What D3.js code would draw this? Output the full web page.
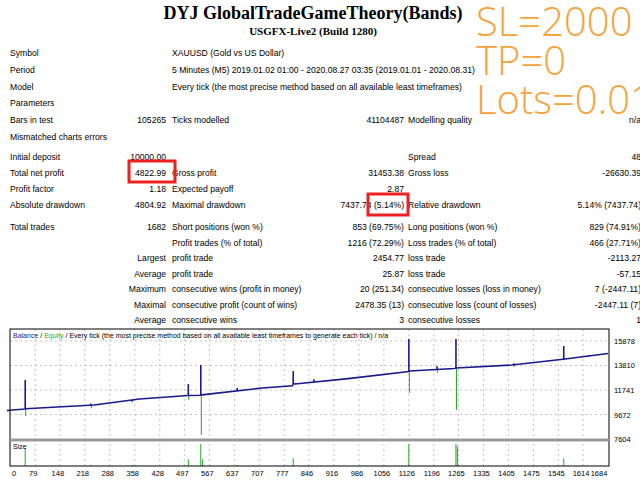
<!DOCTYPE html>
<html><head><meta charset="utf-8">
<script src="https://cdn.jsdelivr.net/npm/d3@7"></script>
<style>body{margin:0;background:#fff}svg{display:block}</style>
</head><body><svg id="c" width="640" height="480"></svg>
<script>
const xTicks=[0,79,148,218,288,358,428,497,567,637,707,777,846,916,986,1056,1126,1196,1265,1335,1405,1475,1545,1614,1684];
const yTicks=[7604,9672,11741,13810,15878];
const balanceTrades=[0,15,51,52,244,371,508,545,546,715,800,802,807,956,1126,1128,1254,1258,1415,1564,1684];
const balanceValues=[10000,10054,10140,10160,10476,10983,11278,11300,11330,11911,12100,12300,12250,12705,13300,13346,13557,13600,13852,14359,14823];
const spikeTrades=[51,235,350,508,543,645,802,860,1126,1205,1258,1420,1560,1630];
const spikeHigh=[12590,10600,10800,12250,13850,11900,13340,12650,16050,13750,16050,14000,15450,14700];
const spikeLow=[9540,10200,10700,10900,7950,11800,12300,12450,11490,13200,10060,13700,14250,14600];
const sizeTrades=[51,235,350,508,543,548,645,802,1126,1258,1262,1560];
const sizeValues=[0.8,0.05,0.05,0.3,1.0,0.3,0.05,0.35,1.0,1.0,0.9,0.35];
const rows=[
 ["Symbol","","XAUUSD (Gold vs US Dollar)","","",""],
 ["Period","","5 Minutes (M5) 2019.01.02 01:00 - 2020.08.27 03:35 (2019.01.01 - 2020.08.31)","","",""],
 ["Model","","Every tick (the most precise method based on all available least timeframes)","","",""],
 ["Parameters","","","","",""],
 ["Bars in test","105265","Ticks modelled","41104487","Modelling quality","n/a"],
 ["Mismatched charts errors","","","","",""],
 ["Initial deposit","10000.00","","","Spread","48"],
 ["Total net profit","4822.99","Gross profit","31453.38","Gross loss","-26630.39"],
 ["Profit factor","1.18","Expected payoff","2.87","",""],
 ["Absolute drawdown","4804.92","Maximal drawdown","7437.74 (5.14%)","Relative drawdown","5.14% (7437.74)"],
 ["Total trades","1682","Short positions (won %)","853 (69.75%)","Long positions (won %)","829 (74.91%)"],
 ["","","Profit trades (% of total)","1216 (72.29%)","Loss trades (% of total)","466 (27.71%)"],
 ["","Largest","profit trade","2454.77","loss trade","-2113.27"],
 ["","Average","profit trade","25.87","loss trade","-57.15"],
 ["","Maximum","consecutive wins (profit in money)","20 (251.34)","consecutive losses (loss in money)","7 (-2447.11)"],
 ["","Maximal","consecutive profit (count of wins)","2478.35 (13)","consecutive loss (count of losses)","-2447.11 (7)"],
 ["","Average","consecutive wins","3","consecutive losses","1"]];
const rowY=[56,73,90,106,123,140,160,176,192,208,230,246,261,277,292,308,323];

const svg=d3.select("#c");
svg.append("text").attr("x",313).attr("y",19).attr("text-anchor","middle").attr("font-family","Liberation Serif").attr("font-weight","bold").attr("font-size",18).text("DYJ GlobalTradeGameTheory(Bands)");
svg.append("text").attr("x",313).attr("y",35).attr("text-anchor","middle").attr("font-family","Liberation Serif").attr("font-weight","bold").attr("font-size",11).text("USGFX-Live2 (Build 1280)");
const f="Liberation Sans";
rows.forEach((r,i)=>{
 const y=rowY[i];
 const t=(x,s,a)=>{if(s)svg.append("text").attr("x",x).attr("y",y).attr("text-anchor",a).attr("font-family",f).attr("font-size",8.6).attr("fill","#000").text(s);};
 t(10,r[0],"start");t(166,r[1],"end");t(172,r[2],"start");t(404,r[3],"end");t(408,r[4],"start");t(641,r[5],"end");
});
[[129,161,46,21],[368,194,40,21]].forEach(b=>svg.append("rect").attr("x",b[0]).attr("y",b[1]).attr("width",b[2]).attr("height",b[3]).attr("fill","none").attr("stroke","#ee2020").attr("stroke-width",3));
[["SL=2000",36],["TP=0",75],["Lots=0.01",114]].forEach(d=>svg.append("text").attr("x",476).attr("y",d[1]).attr("font-family","Open Sans").attr("font-weight",300).attr("font-size",40).attr("fill","#f7a23a").text(d[0]));

const x=d3.scaleLinear().domain([0,1684]).range([7,608]);
const y=d3.scaleLinear().domain([7604,15878]).range([439,341]);
const ys=d3.scaleLinear().domain([0,1]).range([466,444]);
const L=10,R=609,T=329,B=439,SB=466;
const base=t=>{const i=d3.bisectLeft(balanceTrades,t);const j=Math.max(1,Math.min(i,balanceTrades.length-1));const a=balanceTrades[j-1],b=balanceTrades[j];return balanceValues[j-1]+(balanceValues[j]-balanceValues[j-1])*(t-a)/(b-a);};
const g=svg.append("g");
xTicks.forEach(v=>{if(x(v)>L+1&&x(v)<R-1)g.append("line").attr("x1",x(v)).attr("x2",x(v)).attr("y1",T).attr("y2",SB).attr("stroke","#aaa").attr("stroke-dasharray","2,3").attr("stroke-width",0.7);});
yTicks.slice(1).forEach(v=>g.append("line").attr("x1",L).attr("x2",R).attr("y1",y(v)).attr("y2",y(v)).attr("stroke","#aaa").attr("stroke-dasharray","2,3").attr("stroke-width",0.7));
spikeTrades.forEach((t,i)=>{
 g.append("line").attr("x1",x(t)+0.5).attr("x2",x(t)+0.5).attr("y1",y(base(t))).attr("y2",y(spikeLow[i])).attr("stroke","#1faa1f").attr("stroke-width",1);
 g.append("line").attr("x1",x(t)).attr("x2",x(t)).attr("y1",y(spikeHigh[i])).attr("y2",y(base(t))).attr("stroke","#1a1a8c").attr("stroke-width",1.6);
});
const line=d3.line().x((d,i)=>x(balanceTrades[i])).y(d=>y(d));
g.append("path").attr("d",line(balanceValues)).attr("fill","none").attr("stroke","#1a1a8c").attr("stroke-width",1.6);
sizeTrades.forEach((t,i)=>g.append("line").attr("x1",x(t)).attr("x2",x(t)).attr("y1",ys(sizeValues[i])).attr("y2",SB).attr("stroke","#1faa1f").attr("stroke-width",1));
g.append("rect").attr("x",L).attr("y",T).attr("width",R-L).attr("height",SB-T).attr("fill","none").attr("stroke","#000");
g.append("line").attr("x1",L).attr("x2",R).attr("y1",B+1).attr("y2",B+1).attr("stroke","#999").attr("stroke-width",3);
yTicks.forEach(v=>g.append("text").attr("x",614).attr("y",y(v)+3).attr("font-family",f).attr("font-size",7.5).text(v));
xTicks.forEach(v=>g.append("text").attr("x",Math.max(14,Math.min(599,x(v)-2))).attr("y",476).attr("text-anchor","middle").attr("font-family",f).attr("font-size",7.5).text(v));
const ht=g.append("text").attr("x",13).attr("y",338).attr("font-family",f).attr("font-size",7);
ht.append("tspan").attr("fill","#1a1a8c").text("Balance");
ht.append("tspan").text(" / ");
ht.append("tspan").attr("fill","#1faa1f").text("Equity");
ht.append("tspan").text(" / Every tick (the most precise method based on all available least timeframes to generate each tick) / n/a");
g.append("text").attr("x",13).attr("y",449).attr("font-family",f).attr("font-size",7).text("Size");
</script></body></html>
